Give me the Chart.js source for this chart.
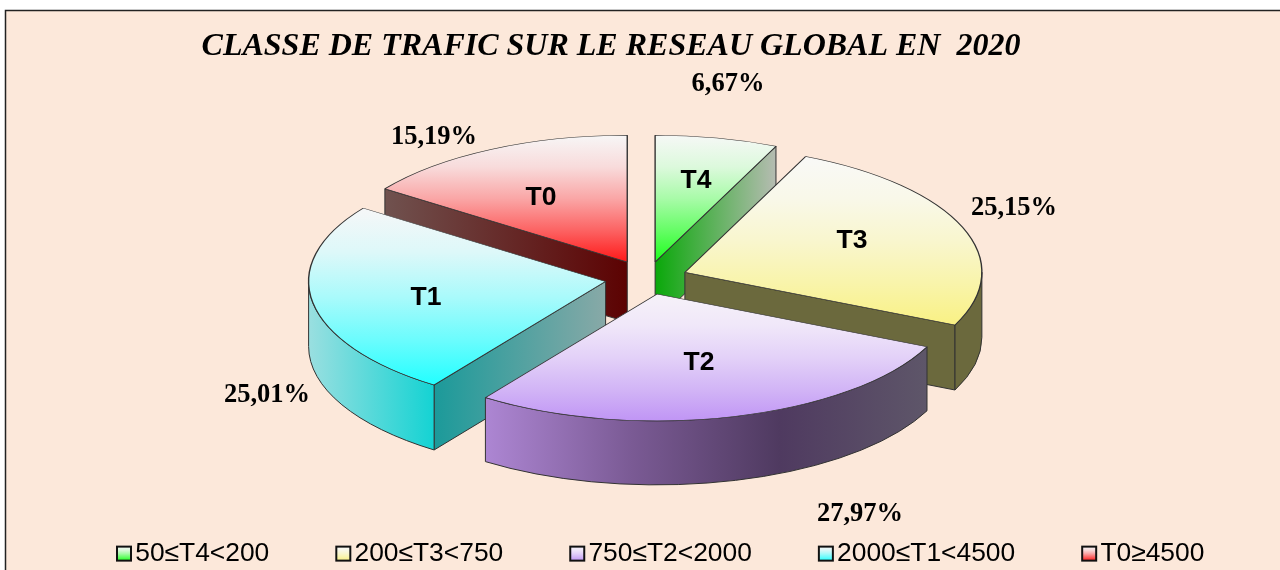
<!DOCTYPE html>
<html lang="fr">
<head>
<meta charset="utf-8">
<title>Classe de trafic 2020</title>
<style>
html,body{margin:0;padding:0;background:#fff;overflow:hidden}
#wrap{position:relative;width:1280px;height:570px}
canvas{display:block}
</style>
<script src="https://cdn.jsdelivr.net/npm/chart.js@4"></script>
</head>
<body>
<div id="wrap"><canvas id="c" width="1280" height="570"></canvas></div>
<script>
// ---- data
const chartTitle = "CLASSE DE TRAFIC SUR LE RESEAU GLOBAL EN  2020";
const classNames = ["T4", "T3", "T2", "T1", "T0"];
const legendLabels = ["50≤T4<200", "200≤T3<750", "750≤T2<2000", "2000≤T1<4500", "T0≥4500"];
const shares = [6.67, 25.15, 27.97, 25.01, 15.19];

// ---- styling / layout (separate from the data)
const topLight = [[246, 248, 246], [249, 249, 247], [246, 242, 249], [246, 247, 248], [247, 246, 246]];
const topDeep  = [[28, 255, 28], [249, 241, 132], [192, 149, 245], [34, 255, 255], [255, 24, 24]];
const rampAt = [0, 0.25, 0.5, 0.75, 1];
const rampMix = [0, 0.12, 0.36, 0.66, 1];
const cutStops = [["#0aa80a", "#b6bcb2"], ["#6b693d", "#6b693d"], ["#555", "#555"], ["#1b9a9a", "#88a9a7"], ["#70524f", "#5c0202"]];
const rimStops = [["#888", "#888"], ["#6b693d", "#6b693d"], ["#ad86d3", "#7a5a94", "#4f3a60", "#5e5669"], ["#9adfe0", "#14d3d3"], ["#555", "#555"]];
const explode = [39, 40.5, 38, 42, 43];
const depth = [60, 65, 64, 65, 60];
const paintOrder = [4, 0, 1, 3, 2];
const pie = {x: 647, y: 278.4, r: 297, squash: 0.427};
const nameSpots = [[696, 181], [852, 241], [699, 363], [426, 298], [541, 198]];
const shareSpots = [[728, 84], [1014, 208], [860, 514], [267, 395], [434, 137]];
const bg = "#fce8da";

function mixColor(i, t) {
  const l = topLight[i], d = topDeep[i];
  return "rgb(" + l.map((v, c) => Math.round(v + (d[c] - v) * t)).join(",") + ")";
}
function addRamp(grad, i) {
  rampAt.forEach((p, j) => grad.addColorStop(p, mixColor(i, rampMix[j])));
}

function legendBox(i) {
  const c = document.createElement("canvas");
  c.width = 40; c.height = 18;
  const g = c.getContext("2d");
  const lg = g.createLinearGradient(0, 2, 0, 16);
  addRamp(lg, i);
  g.fillStyle = lg;
  g.fillRect(16, 2, 14, 14);
  g.strokeStyle = "#111";
  g.lineWidth = 2;
  g.strokeRect(16, 2, 14, 14);
  return c;
}

function stopsGradient(ctx, x0, x1, stops) {
  const g = ctx.createLinearGradient(x0, 0, x1, 0);
  stops.forEach((s, i) => g.addColorStop(i / (stops.length - 1), s));
  return g;
}

const pie3d = {
  id: "pie3d",
  beforeDraw(chart) {
    const ctx = chart.ctx;
    ctx.save();
    ctx.fillStyle = "#fff";
    ctx.fillRect(0, 0, 1280, 570);
    ctx.fillStyle = bg;
    ctx.fillRect(5, 10, 1275, 560);
    ctx.strokeStyle = "#222";
    ctx.lineWidth = 1.5;
    ctx.beginPath();
    ctx.moveTo(5.5, 570);
    ctx.lineTo(5.5, 10.5);
    ctx.lineTo(1280, 10.5);
    ctx.stroke();
    ctx.restore();
  },
  afterLayout(chart) {
    const t = chart.titleBlock;
    t.left = 0; t.right = 1222; t.top = 28;
    const l = chart.legend;
    const pad = l.options.labels.padding;
    l.left = 120 - pad;
    l.top = 553 - pad - 12.6;
  },
  beforeDatasetsDraw(chart) {
    const ctx = chart.ctx;
    const arcs = chart.getDatasetMeta(0).data;
    const k = pie.squash;
    arcs.forEach((arc, i) => {
      const a = arc.startAngle, b = arc.endAngle, m = (a + b) / 2;
      arc.x = pie.x + Math.cos(m) * explode[i];
      arc.y = Math.sin(m) * explode[i];
      const r = arc.outerRadius;
      let ys = [0, Math.sin(a) * r, Math.sin(b) * r];
      for (const t of [-Math.PI / 2, Math.PI / 2, 3 * Math.PI / 2]) {
        if (t >= a && t <= b) ys.push(Math.sin(t) * r);
      }
      const g = ctx.createLinearGradient(0, arc.y + Math.min(...ys), 0, arc.y + Math.max(...ys));
      addRamp(g, i);
      arc.options = Object.assign({}, arc.options, {backgroundColor: g});
    });
    ctx.save();
    ctx.strokeStyle = "#333";
    ctx.lineWidth = 1;
    ctx.lineJoin = "round";
    for (const i of paintOrder) {
      const arc = arcs[i];
      const a = arc.startAngle, b = arc.endAngle, r = arc.outerRadius, d = depth[i];
      const ax = arc.x, ay = pie.y + arc.y * k, ry = r * k;
      const face = (ang) => {
        const ex = ax + Math.cos(ang) * r, ey = ay + Math.sin(ang) * ry;
        ctx.beginPath();
        ctx.moveTo(ax, ay); ctx.lineTo(ex, ey); ctx.lineTo(ex, ey + d); ctx.lineTo(ax, ay + d); ctx.closePath();
        ctx.fillStyle = stopsGradient(ctx, Math.min(ax, ex), Math.max(ax, ex), cutStops[i]);
        ctx.fill(); ctx.stroke();
      };
      if (-Math.cos(a) > 0.001) face(a);
      if (Math.cos(b) > 0.001) face(b);
      const ra = Math.max(a, 0), rb = Math.min(b, Math.PI);
      if (rb > ra) {
        ctx.beginPath();
        ctx.ellipse(ax, ay, r, ry, 0, ra, rb, false);
        ctx.ellipse(ax, ay + d, r, ry, 0, rb, ra, true);
        ctx.closePath();
        const x0 = ax + Math.cos(rb) * r, x1 = ax + Math.cos(ra) * r;
        ctx.fillStyle = stopsGradient(ctx, x0, x1, rimStops[i]);
        ctx.fill(); ctx.stroke();
      }
    }
    ctx.restore();
    ctx.save();
    ctx.translate(0, pie.y);
    ctx.scale(1, k);
  },
  afterDatasetsDraw(chart) {
    chart.ctx.restore();
  },
  afterDraw(chart) {
    const ctx = chart.ctx;
    ctx.save();
    ctx.fillStyle = "#000";
    ctx.textAlign = "center";
    ctx.textBaseline = "middle";
    ctx.font = 'bold 26.5px "Liberation Sans", Arial, sans-serif';
    classNames.forEach((n, i) => ctx.fillText(n, nameSpots[i][0], nameSpots[i][1]));
    ctx.font = 'bold 26.5px "Liberation Serif", "Times New Roman", serif';
    shares.forEach((v, i) => ctx.fillText(v.toFixed(2).replace(".", ",") + "%", shareSpots[i][0], shareSpots[i][1]));
    ctx.restore();
  }
};

new Chart(document.getElementById("c"), {
  type: "pie",
  data: {
    labels: legendLabels,
    datasets: [{
      data: shares,
      backgroundColor: topDeep.map(c => "rgb(" + c.join(",") + ")"),
      borderColor: "#333",
      borderWidth: 1.4,
      radius: pie.r,
      clip: false
    }]
  },
  options: {
    responsive: false,
    animation: false,
    plugins: {
      tooltip: {enabled: false},
      title: {
        display: true,
        text: chartTitle,
        color: "#000",
        padding: 0,
        font: {family: '"Liberation Serif", "Times New Roman", serif', size: 32, weight: "bold", style: "italic", lineHeight: 1.2}
      },
      legend: {
        display: true,
        position: "bottom",
        align: "start",
        labels: {
          color: "#000",
          font: {family: '"Liberation Sans", Arial, sans-serif', size: 26.4, lineHeight: 1.2},
          boxWidth: 2,
          usePointStyle: true,
          padding: 70,
          generateLabels: () => legendLabels.map((t, i) => ({
            text: t, index: i, hidden: false, pointStyle: legendBox(i), fontColor: "#000"
          }))
        }
      }
    }
  },
  plugins: [pie3d]
});
</script>
</body>
</html>
